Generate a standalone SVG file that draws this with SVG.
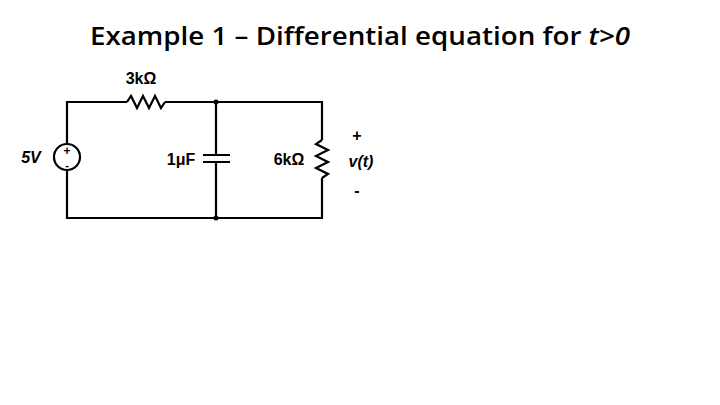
<svg xmlns="http://www.w3.org/2000/svg" width="720" height="405" viewBox="0 0 720 405">
<style>
.w{fill:none;stroke:#000;stroke-width:2.2;stroke-linejoin:miter}
.t{font-family:"Liberation Sans",Arial,sans-serif;font-weight:bold;font-size:16px;fill:#000}
</style>
<rect width="720" height="405" fill="#fff"/>
<text x="90" y="45" textLength="540" lengthAdjust="spacingAndGlyphs" style="font-family:'Open Sans','Liberation Sans',sans-serif;font-weight:600;font-size:26px;fill:#000">Example 1 – Differential equation for <tspan font-style="italic">t&gt;0</tspan></text>
<g id="connectors">
<path class="w" d="M67,144 V102 H127 M165,102 H322 V140 M322,178 V218 H67 V170"/>
<path class="w" d="M216,102 V155 M216,162 V218"/>
<circle cx="216" cy="102" r="2.5"/>
<circle cx="216" cy="218" r="2.5"/>
</g>
<g id="source">
<circle class="w" cx="67" cy="157" r="13"/>
<text class="t" x="67" y="155" text-anchor="middle" style="font-size:12px">+</text>
<text class="t" x="67" y="169" text-anchor="middle" style="font-size:11px">-</text>
<text class="t" x="31" y="163" text-anchor="middle" font-style="italic">5V</text>
</g>
<g id="r1">
<path class="w" d="M127,102 L131,96 L137,108 L143,96 L149,108 L155,96 L161,108 L165,102"/>
<text class="t" x="141" y="84" text-anchor="middle">3kΩ</text>
</g>
<g id="c1">
<path class="w" d="M203,155 H230 M203,162 H230"/>
<text class="t" x="181" y="165" text-anchor="middle">1μF</text>
</g>
<g id="r2">
<path class="w" d="M322,140 L316,144 L328,150 L316,156 L328,162 L316,168 L328,174 L322,178"/>
<text class="t" x="289" y="165" text-anchor="middle">6kΩ</text>
</g>
<g id="v">
<text class="t" x="357" y="141" text-anchor="middle">+</text>
<text class="t" x="361" y="167" text-anchor="middle" font-style="italic">v(t)</text>
<text class="t" x="357" y="196" text-anchor="middle">-</text>
</g>
</svg>
